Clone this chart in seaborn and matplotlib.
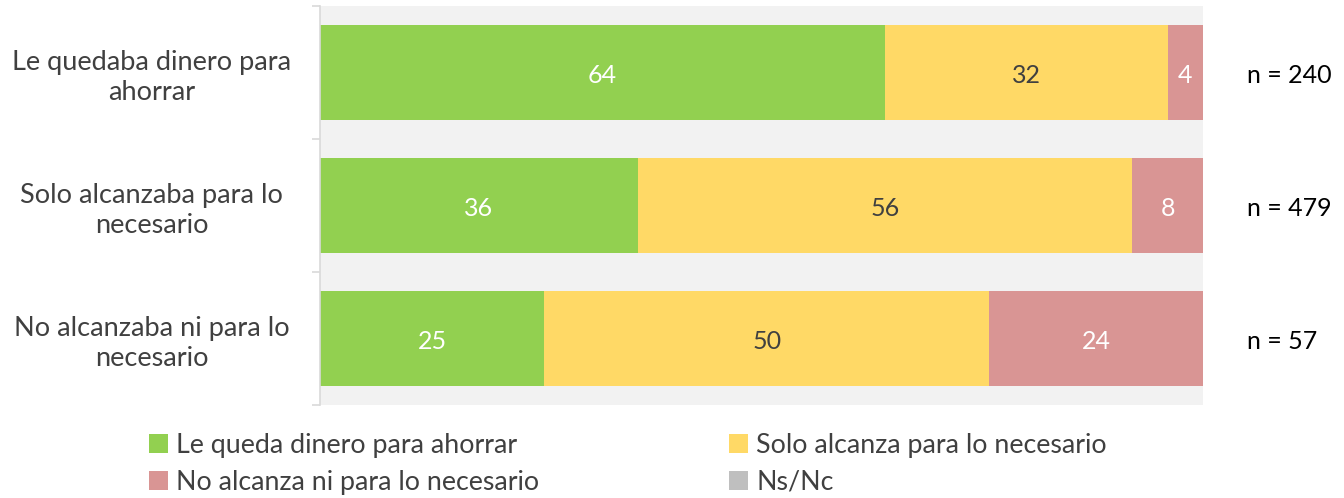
import pandas as pd
import matplotlib.pyplot as plt
import matplotlib.transforms as mtransforms
from matplotlib.patches import Patch
import seaborn as sns

# =========================
# DATA
# =========================

categories = ["Le quedaba dinero para\nahorrar",
              "Solo alcanzaba para lo\nnecesario",
              "No alcanzaba ni para lo\nnecesario"]
le_queda = [64, 36, 25.4]
solo_alcanza = [32, 56, 50.4]
no_alcanza = [4, 8, 24.2]
n_labels = ["n = 240", "n = 479", "n = 57"]

series_names = ["Le queda dinero para ahorrar", "Solo alcanza para lo necesario",
                "No alcanza ni para lo necesario", "Ns/Nc"]
colors = ["#92d050", "#ffd966", "#d99594", "#bfbfbf"]
label_colors = ["white", "#404040", "white"]

# =========================
# PLOT
# =========================

sns.set_style("white")
plt.rcParams["font.family"] = ["Lato", "DejaVu Sans"]

df = pd.DataFrame({"cat": categories, "green": le_queda,
                   "yellow": solo_alcanza, "red": no_alcanza})
df["c1"] = df["green"]
df["c2"] = df["green"] + df["yellow"]
df["c3"] = df["c2"] + df["red"]

fig = plt.figure(figsize=(13.44, 4.98), dpi=100)
ax = fig.add_axes([0.238, 0.187, 0.657, 0.801])
ax.set_facecolor("#f2f2f2")

# stacked bars by drawing cumulative totals from largest to smallest
for col, color in zip(["c3", "c2", "c1"], [colors[2], colors[1], colors[0]]):
    sns.barplot(data=df, x=col, y="cat", color=color, width=0.715,
                saturation=1, orient="h", ax=ax, edgecolor="none")

# segment labels
for i, row in df.iterrows():
    starts = [0, row["c1"], row["c2"]]
    vals = [row["green"], row["yellow"], row["red"]]
    for s, v, tc in zip(starts, vals, label_colors):
        ax.text(s + v / 2, i + 0.02, f"{v:.0f}", ha="center", va="center",
                fontsize=18, color=tc)

# n labels to the right
trans = mtransforms.blended_transform_factory(ax.transAxes, ax.transData)
for i, lab in enumerate(n_labels):
    ax.text(1.05, i + 0.02, lab, transform=trans, ha="left", va="center",
            fontsize=18, color="black")

ax.set_xlim(0, 100)
ax.set_ylim(2.5, -0.5)
ax.set_xlabel("")
ax.set_ylabel("")
ax.set_xticks([])
ax.set_yticks(range(len(categories)))
ax.set_yticklabels(categories, ha="center", fontsize=19.5, color="#404040",
                   linespacing=1.25)
ax.set_yticks([-0.5, 0.5, 1.5, 2.5], minor=True)
ax.tick_params(axis="y", which="major", length=0, pad=121)
ax.tick_params(axis="y", which="minor", length=6, width=1.2, color="#d9d9d9",
               left=True)
for side in ["top", "right", "bottom"]:
    ax.spines[side].set_visible(False)
ax.spines["left"].set_color("#d9d9d9")
ax.spines["left"].set_linewidth(1.2)

# legend (row-wise order: matplotlib fills columns first)
order = [0, 2, 1, 3]
handles = [Patch(facecolor=colors[k], edgecolor="none") for k in order]
labels = [series_names[k] for k in order]
fig.legend(handles, labels, loc="lower left", bbox_to_anchor=(0.093, -0.042),
           ncol=2, frameon=False, fontsize=19.3, labelcolor="#404040",
           handlelength=0.7, handleheight=0.7, handletextpad=0.3,
           columnspacing=7.1, labelspacing=0.45)

fig.savefig("out.png", dpi=100)
